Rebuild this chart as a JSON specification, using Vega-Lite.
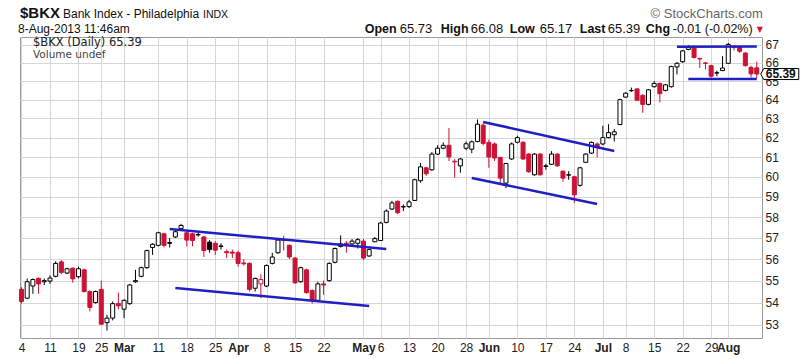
{
  "$schema": "https://vega.github.io/schema/vega-lite/v6.json",
  "width": 742,
  "height": 301,
  "autosize": {"type": "none"},
  "padding": {"left": 20, "top": 37, "right": 38, "bottom": 21},
  "background": "white",
  "config": {
    "font": "Liberation Sans",
    "view": {"stroke": "#9a9a9a", "strokeWidth": 1},
    "text": {"font": "Liberation Sans", "baseline": "alphabetic", "align": "left", "color": "#111"}
  },
  "datasets": {
    "bars": [
      {"d":"2013-02-04","o":54.6,"h":54.7,"l":53.95,"c":54.05},
      {"d":"2013-02-05","o":54.2,"h":55.1,"l":54.15,"c":54.95},
      {"d":"2013-02-06","o":54.75,"h":55.1,"l":54.4,"c":55.05},
      {"d":"2013-02-07","o":55.1,"h":55.15,"l":54.4,"c":54.85},
      {"d":"2013-02-08","o":54.95,"h":55.1,"l":54.8,"c":55.0},
      {"d":"2013-02-11","o":54.98,"h":55.25,"l":54.85,"c":55.12},
      {"d":"2013-02-12","o":55.2,"h":55.9,"l":55.15,"c":55.8},
      {"d":"2013-02-13","o":55.87,"h":55.95,"l":55.3,"c":55.38},
      {"d":"2013-02-14","o":55.35,"h":55.6,"l":55.3,"c":55.55},
      {"d":"2013-02-15","o":55.58,"h":55.6,"l":54.9,"c":55.08},
      {"d":"2013-02-19","o":55.18,"h":55.65,"l":55.1,"c":55.55},
      {"d":"2013-02-20","o":55.5,"h":55.55,"l":54.45,"c":54.5},
      {"d":"2013-02-21","o":54.5,"h":54.55,"l":53.6,"c":53.78},
      {"d":"2013-02-22","o":54.0,"h":54.55,"l":53.95,"c":54.5},
      {"d":"2013-02-25","o":54.6,"h":55.0,"l":53.0,"c":53.03},
      {"d":"2013-02-26","o":53.1,"h":53.45,"l":52.75,"c":53.3},
      {"d":"2013-02-27","o":53.3,"h":54.05,"l":53.2,"c":53.95},
      {"d":"2013-02-28","o":53.95,"h":54.45,"l":53.7,"c":53.85},
      {"d":"2013-03-01","o":53.7,"h":54.15,"l":53.3,"c":54.1},
      {"d":"2013-03-04","o":53.95,"h":54.85,"l":53.9,"c":54.8},
      {"d":"2013-03-05","o":54.95,"h":55.5,"l":54.9,"c":55.0},
      {"d":"2013-03-06","o":55.2,"h":55.65,"l":55.15,"c":55.6},
      {"d":"2013-03-07","o":55.6,"h":56.45,"l":55.55,"c":56.4},
      {"d":"2013-03-08","o":56.55,"h":56.75,"l":56.2,"c":56.7},
      {"d":"2013-03-11","o":56.65,"h":57.3,"l":56.6,"c":57.25},
      {"d":"2013-03-12","o":57.2,"h":57.25,"l":56.55,"c":56.65},
      {"d":"2013-03-13","o":56.78,"h":57.0,"l":56.55,"c":56.75},
      {"d":"2013-03-14","o":57.05,"h":57.4,"l":57.0,"c":57.3},
      {"d":"2013-03-15","o":57.45,"h":57.68,"l":57.4,"c":57.6},
      {"d":"2013-03-18","o":57.25,"h":57.3,"l":56.6,"c":56.9},
      {"d":"2013-03-19","o":57.2,"h":57.25,"l":56.6,"c":56.88},
      {"d":"2013-03-20","o":57.15,"h":57.28,"l":57.06,"c":57.17},
      {"d":"2013-03-21","o":57.05,"h":57.1,"l":56.1,"c":56.4},
      {"d":"2013-03-22","o":56.8,"h":56.9,"l":56.3,"c":56.45},
      {"d":"2013-03-25","o":56.75,"h":56.85,"l":56.2,"c":56.42},
      {"d":"2013-03-26","o":56.62,"h":56.75,"l":56.45,"c":56.6},
      {"d":"2013-03-27","o":56.35,"h":56.45,"l":56.05,"c":56.3},
      {"d":"2013-03-28","o":56.33,"h":56.45,"l":56.05,"c":56.28},
      {"d":"2013-04-01","o":56.3,"h":56.4,"l":55.65,"c":55.8},
      {"d":"2013-04-02","o":55.82,"h":56.0,"l":55.7,"c":55.78},
      {"d":"2013-04-03","o":55.8,"h":55.85,"l":54.5,"c":54.6},
      {"d":"2013-04-04","o":54.65,"h":55.15,"l":54.5,"c":55.1},
      {"d":"2013-04-05","o":54.85,"h":55.3,"l":54.2,"c":55.05},
      {"d":"2013-04-08","o":54.75,"h":55.75,"l":54.7,"c":55.7},
      {"d":"2013-04-09","o":55.8,"h":56.3,"l":55.75,"c":56.1},
      {"d":"2013-04-10","o":56.3,"h":57.0,"l":56.25,"c":56.9},
      {"d":"2013-04-11","o":56.92,"h":57.1,"l":56.4,"c":56.88},
      {"d":"2013-04-12","o":56.65,"h":56.7,"l":56.0,"c":56.1},
      {"d":"2013-04-15","o":56.05,"h":56.1,"l":54.85,"c":54.9},
      {"d":"2013-04-16","o":54.95,"h":55.65,"l":54.9,"c":55.6},
      {"d":"2013-04-17","o":55.5,"h":55.55,"l":54.4,"c":54.45},
      {"d":"2013-04-18","o":54.55,"h":54.6,"l":53.95,"c":54.1},
      {"d":"2013-04-19","o":54.1,"h":54.95,"l":54.05,"c":54.85},
      {"d":"2013-04-22","o":54.85,"h":55.0,"l":54.35,"c":54.8},
      {"d":"2013-04-23","o":55.0,"h":55.85,"l":54.95,"c":55.8},
      {"d":"2013-04-24","o":55.85,"h":56.55,"l":55.8,"c":56.5},
      {"d":"2013-04-25","o":56.6,"h":57.12,"l":56.55,"c":56.72},
      {"d":"2013-04-26","o":56.75,"h":56.85,"l":56.3,"c":56.65},
      {"d":"2013-04-29","o":56.72,"h":56.95,"l":56.65,"c":56.85},
      {"d":"2013-04-30","o":56.75,"h":57.0,"l":56.5,"c":56.92},
      {"d":"2013-05-01","o":56.85,"h":56.95,"l":55.95,"c":56.05},
      {"d":"2013-05-02","o":56.15,"h":56.5,"l":56.1,"c":56.45},
      {"d":"2013-05-03","o":56.82,"h":57.05,"l":56.8,"c":56.97},
      {"d":"2013-05-06","o":56.88,"h":57.78,"l":56.85,"c":57.72},
      {"d":"2013-05-07","o":57.75,"h":58.38,"l":57.7,"c":58.3},
      {"d":"2013-05-08","o":58.4,"h":58.8,"l":58.35,"c":58.7},
      {"d":"2013-05-09","o":58.78,"h":58.82,"l":58.15,"c":58.22},
      {"d":"2013-05-10","o":58.5,"h":58.63,"l":58.3,"c":58.52},
      {"d":"2013-05-13","o":58.52,"h":58.85,"l":58.45,"c":58.75},
      {"d":"2013-05-14","o":58.82,"h":59.9,"l":58.8,"c":59.85},
      {"d":"2013-05-15","o":59.8,"h":60.7,"l":59.7,"c":60.5},
      {"d":"2013-05-16","o":60.45,"h":60.5,"l":60.05,"c":60.15},
      {"d":"2013-05-17","o":60.35,"h":61.25,"l":60.3,"c":61.15},
      {"d":"2013-05-20","o":61.15,"h":61.6,"l":61.1,"c":61.45},
      {"d":"2013-05-21","o":61.45,"h":61.75,"l":61.4,"c":61.6},
      {"d":"2013-05-22","o":61.6,"h":62.5,"l":60.8,"c":61.0},
      {"d":"2013-05-23","o":60.78,"h":60.9,"l":59.95,"c":60.75},
      {"d":"2013-05-24","o":60.55,"h":60.95,"l":60.2,"c":60.9},
      {"d":"2013-05-28","o":61.45,"h":61.8,"l":61.35,"c":61.68},
      {"d":"2013-05-29","o":61.4,"h":61.85,"l":61.2,"c":61.78},
      {"d":"2013-05-30","o":61.8,"h":62.95,"l":61.75,"c":62.7},
      {"d":"2013-05-31","o":62.65,"h":62.75,"l":61.6,"c":61.7},
      {"d":"2013-06-03","o":61.75,"h":61.9,"l":60.45,"c":61.0},
      {"d":"2013-06-04","o":61.67,"h":61.75,"l":60.8,"c":60.95},
      {"d":"2013-06-05","o":60.98,"h":61.0,"l":59.68,"c":59.93},
      {"d":"2013-06-06","o":59.68,"h":60.7,"l":59.43,"c":60.67},
      {"d":"2013-06-07","o":60.9,"h":61.75,"l":60.85,"c":61.67},
      {"d":"2013-06-10","o":61.76,"h":62.1,"l":61.7,"c":62.0},
      {"d":"2013-06-11","o":61.76,"h":61.8,"l":60.85,"c":60.9},
      {"d":"2013-06-12","o":61.15,"h":61.2,"l":60.2,"c":60.25},
      {"d":"2013-06-13","o":60.1,"h":61.2,"l":60.05,"c":61.15},
      {"d":"2013-06-14","o":61.15,"h":61.2,"l":60.05,"c":60.1},
      {"d":"2013-06-17","o":60.52,"h":60.65,"l":60.35,"c":60.55},
      {"d":"2013-06-18","o":60.63,"h":61.3,"l":60.6,"c":61.15},
      {"d":"2013-06-19","o":61.15,"h":61.2,"l":60.5,"c":60.55},
      {"d":"2013-06-20","o":60.28,"h":60.3,"l":59.75,"c":59.93},
      {"d":"2013-06-21","o":60.08,"h":60.28,"l":59.85,"c":60.1},
      {"d":"2013-06-24","o":60.0,"h":60.05,"l":58.7,"c":59.1},
      {"d":"2013-06-25","o":59.57,"h":60.5,"l":59.5,"c":60.45},
      {"d":"2013-06-26","o":60.73,"h":61.2,"l":60.7,"c":61.15},
      {"d":"2013-06-27","o":61.2,"h":61.8,"l":61.15,"c":61.75},
      {"d":"2013-06-28","o":61.67,"h":61.75,"l":60.98,"c":61.5},
      {"d":"2013-07-01","o":61.67,"h":62.62,"l":61.6,"c":62.0},
      {"d":"2013-07-02","o":62.0,"h":62.7,"l":61.95,"c":62.26},
      {"d":"2013-07-03","o":62.15,"h":62.45,"l":61.8,"c":62.3},
      {"d":"2013-07-05","o":62.68,"h":64.05,"l":62.65,"c":64.0},
      {"d":"2013-07-08","o":64.14,"h":64.4,"l":64.1,"c":64.35},
      {"d":"2013-07-09","o":64.48,"h":64.65,"l":64.42,"c":64.5},
      {"d":"2013-07-10","o":64.58,"h":64.62,"l":63.95,"c":63.97},
      {"d":"2013-07-11","o":64.23,"h":64.3,"l":63.3,"c":63.75},
      {"d":"2013-07-12","o":63.75,"h":64.57,"l":63.7,"c":64.53},
      {"d":"2013-07-15","o":64.7,"h":65.0,"l":64.65,"c":64.88},
      {"d":"2013-07-16","o":64.88,"h":64.92,"l":63.85,"c":64.32},
      {"d":"2013-07-17","o":64.5,"h":64.85,"l":64.45,"c":64.8},
      {"d":"2013-07-18","o":64.7,"h":65.85,"l":64.65,"c":65.8},
      {"d":"2013-07-19","o":65.78,"h":66.05,"l":65.37,"c":65.98},
      {"d":"2013-07-22","o":66.07,"h":66.72,"l":66.0,"c":66.67},
      {"d":"2013-07-23","o":66.75,"h":67.0,"l":66.7,"c":66.85},
      {"d":"2013-07-24","o":66.82,"h":66.98,"l":66.25,"c":66.3},
      {"d":"2013-07-25","o":66.25,"h":66.28,"l":65.72,"c":66.22},
      {"d":"2013-07-26","o":66.0,"h":66.05,"l":65.65,"c":65.98},
      {"d":"2013-07-29","o":65.85,"h":65.9,"l":65.2,"c":65.27},
      {"d":"2013-07-30","o":65.44,"h":65.58,"l":65.27,"c":65.46},
      {"d":"2013-07-31","o":65.58,"h":66.38,"l":65.55,"c":65.72},
      {"d":"2013-08-01","o":65.98,"h":67.12,"l":65.95,"c":67.03},
      {"d":"2013-08-02","o":66.93,"h":67.0,"l":66.7,"c":66.88},
      {"d":"2013-08-05","o":66.9,"h":66.95,"l":66.55,"c":66.65},
      {"d":"2013-08-06","o":66.55,"h":66.6,"l":65.8,"c":65.85},
      {"d":"2013-08-07","o":65.75,"h":65.85,"l":65.2,"c":65.4},
      {"d":"2013-08-08","o":65.73,"h":66.08,"l":65.17,"c":65.39}
    ],
    "trend": [
      {"a":"2013-03-13","va":57.43,"b":"2013-05-07","vb":56.48},
      {"a":"2013-03-14","va":54.66,"b":"2013-05-02","vb":53.84},
      {"a":"2013-05-31","va":62.82,"b":"2013-07-03","vb":61.31},
      {"a":"2013-05-29","va":59.94,"b":"2013-06-28","vb":58.65},
      {"a":"2013-07-19","va":66.9,"b":"2013-08-08","vb":66.92},
      {"a":"2013-07-23","va":65.12,"b":"2013-08-08","vb":65.12}
    ]
  },
  "layer": [
    {
      "data": {"name": "bars"},
      "transform": [{"window": [{"op": "lag", "field": "c", "as": "pc"}], "sort": [{"field": "d"}]}],
      "mark": {"type": "rule", "strokeWidth": 1},
      "encoding": {
        "x": {
          "field": "d", "type": "ordinal",
          "scale": {"type": "point", "padding": 0.59, "align": 0.22},
          "axis": {
            "values": ["2013-02-04","2013-02-11","2013-02-19","2013-02-25","2013-03-01","2013-03-11","2013-03-18","2013-03-25","2013-04-01","2013-04-08","2013-04-15","2013-04-22","2013-05-01","2013-05-06","2013-05-13","2013-05-20","2013-05-28","2013-06-03","2013-06-10","2013-06-17","2013-06-24","2013-07-01","2013-07-08","2013-07-15","2013-07-22","2013-07-29","2013-08-01"],
            "labelExpr": "indexof(['2013-03-01','2013-04-01','2013-05-01','2013-06-03','2013-07-01','2013-08-01'], datum.value) >= 0 ? ['Jan','Feb','Mar','Apr','May','Jun','Jul','Aug'][toNumber(substring(datum.value,5,7))-1] : '' + toNumber(substring(datum.value,8,10))",
            "labelFontWeight": {"condition": {"test": "indexof(['2013-03-01','2013-04-01','2013-05-01','2013-06-03','2013-07-01','2013-08-01'], datum.value) >= 0", "value": "bold"}, "value": "normal"},
            "labelFontSize": 12, "labelColor": "#222", "labelFont": "Liberation Sans",
            "labelAngle": 0, "labelPadding": 4, "labelOverlap": false, "labelBound": false,
            "ticks": false, "domain": false, "grid": true, "gridColor": "#d6d6d6", "gridWidth": 1,
            "title": null
          }
        },
        "y": {
          "field": "l", "type": "quantitative",
          "scale": {"type": "log", "domain": [52.42, 67.45], "nice": false},
          "axis": {
            "orient": "right", "values": [53,54,55,56,57,58,59,60,61,62,63,64,65,66,67], "format": "d",
            "labelFontSize": 12, "labelColor": "#222", "labelFont": "Liberation Sans", "labelPadding": 3,
            "ticks": false, "domain": false, "grid": true, "gridColor": "#d6d6d6", "gridWidth": 1,
            "title": null
          }
        },
        "y2": {"field": "h"},
        "color": {"condition": {"test": "datum.c < (datum.pc == null ? datum.o : datum.pc)", "value": "#cc1236"}, "value": "#000000"}
      }
    },
    {
      "data": {"name": "bars"},
      "transform": [{"window": [{"op": "lag", "field": "c", "as": "pc"}], "sort": [{"field": "d"}]}],
      "mark": {"type": "bar", "width": 4, "strokeWidth": 1},
      "encoding": {
        "x": {"field": "d", "type": "ordinal"},
        "y": {"field": "o", "type": "quantitative"},
        "y2": {"field": "c"},
        "fill": {"condition": [
          {"test": "datum.c >= datum.o", "value": "#ffffff"},
          {"test": "datum.c < (datum.pc == null ? datum.o : datum.pc)", "value": "#cc1236"}
        ], "value": "#000000"},
        "stroke": {"condition": {"test": "datum.c < (datum.pc == null ? datum.o : datum.pc)", "value": "#cc1236"}, "value": "#000000"}
      }
    },
    {
      "data": {"name": "trend"},
      "mark": {"type": "rule", "color": "#1f1fc4", "strokeWidth": 2.5},
      "encoding": {
        "x": {"field": "a", "type": "ordinal"},
        "x2": {"field": "b"},
        "y": {"field": "va", "type": "quantitative"},
        "y2": {"field": "vb"}
      }
    },
    {
      "data": {"values": [{}]},
      "mark": {"type": "point", "shape": "M0.4,0 L0.7,-0.55 L4.2,-0.55 L4.2,0.55 L0.7,0.55 Z", "size": 400, "filled": true, "fill": "#ffffff", "stroke": "#000000", "strokeWidth": 1, "opacity": 1},
      "encoding": {"x": {"datum": "2013-08-08", "type": "ordinal"}, "y": {"datum": 65.39, "type": "quantitative"}}
    },
    {
      "data": {"values": [{}]},
      "mark": {"type": "text", "text": "65.39", "fontWeight": "bold", "fontSize": 12, "dx": 9, "baseline": "middle"},
      "encoding": {"x": {"datum": "2013-08-08", "type": "ordinal"}, "y": {"datum": 65.39, "type": "quantitative"}}
    },
    {
      "data": {"values": [{}]},
      "mark": {"type": "text", "text": "$BKX", "fontWeight": "bold", "fontSize": 15, "dx": -1.5},
      "encoding": {"x": {"datum": "2013-02-04", "type": "ordinal"}, "y": {"datum": 68.53, "type": "quantitative"}}
    },
    {
      "data": {"values": [{}]},
      "mark": {"type": "text", "text": "Bank Index - Philadelphia", "fontSize": 12, "dx": 41.5},
      "encoding": {"x": {"datum": "2013-02-04", "type": "ordinal"}, "y": {"datum": 68.53, "type": "quantitative"}}
    },
    {
      "data": {"values": [{}]},
      "mark": {"type": "text", "text": "INDX", "fontSize": 10.5, "dx": 181.5},
      "encoding": {"x": {"datum": "2013-02-04", "type": "ordinal"}, "y": {"datum": 68.53, "type": "quantitative"}}
    },
    {
      "data": {"values": [{}]},
      "mark": {"type": "text", "text": "8-Aug-2013 11:46am", "fontSize": 12, "dx": -3.5},
      "encoding": {"x": {"datum": "2013-02-04", "type": "ordinal"}, "y": {"datum": 67.68, "type": "quantitative"}}
    },
    {
      "data": {"values": [{}]},
      "mark": {"type": "text", "text": "$BKX (Daily) 65.39", "font": "DejaVu Sans", "fontSize": 11.5, "dx": 11.5, "color": "#222"},
      "encoding": {"x": {"datum": "2013-02-04", "type": "ordinal"}, "y": {"datum": 66.93, "type": "quantitative"}}
    },
    {
      "data": {"values": [{}]},
      "mark": {"type": "text", "text": "Volume undef", "font": "DejaVu Sans", "fontSize": 10.5, "dx": 11.5, "color": "#444"},
      "encoding": {"x": {"datum": "2013-02-04", "type": "ordinal"}, "y": {"datum": 66.25, "type": "quantitative"}}
    },
    {
      "data": {"values": [{}]},
      "mark": {"type": "text", "text": "© StockCharts.com", "fontSize": 13, "dx": 6, "align": "right", "color": "#666"},
      "encoding": {"x": {"datum": "2013-08-08", "type": "ordinal"}, "y": {"datum": 68.53, "type": "quantitative"}}
    },
    {
      "data": {"values": [{}]},
      "mark": {"type": "text", "text": "Open", "fontWeight": "bold", "fontSize": 12.5, "dx": -392},
      "encoding": {"x": {"datum": "2013-08-08", "type": "ordinal"}, "y": {"datum": 67.68, "type": "quantitative"}}
    },
    {
      "data": {"values": [{}]},
      "mark": {"type": "text", "text": "65.73", "fontSize": 13, "dx": -357},
      "encoding": {"x": {"datum": "2013-08-08", "type": "ordinal"}, "y": {"datum": 67.68, "type": "quantitative"}}
    },
    {
      "data": {"values": [{}]},
      "mark": {"type": "text", "text": "High", "fontWeight": "bold", "fontSize": 12.5, "dx": -316},
      "encoding": {"x": {"datum": "2013-08-08", "type": "ordinal"}, "y": {"datum": 67.68, "type": "quantitative"}}
    },
    {
      "data": {"values": [{}]},
      "mark": {"type": "text", "text": "66.08", "fontSize": 13, "dx": -286},
      "encoding": {"x": {"datum": "2013-08-08", "type": "ordinal"}, "y": {"datum": 67.68, "type": "quantitative"}}
    },
    {
      "data": {"values": [{}]},
      "mark": {"type": "text", "text": "Low", "fontWeight": "bold", "fontSize": 12.5, "dx": -247},
      "encoding": {"x": {"datum": "2013-08-08", "type": "ordinal"}, "y": {"datum": 67.68, "type": "quantitative"}}
    },
    {
      "data": {"values": [{}]},
      "mark": {"type": "text", "text": "65.17", "fontSize": 13, "dx": -217},
      "encoding": {"x": {"datum": "2013-08-08", "type": "ordinal"}, "y": {"datum": 67.68, "type": "quantitative"}}
    },
    {
      "data": {"values": [{}]},
      "mark": {"type": "text", "text": "Last", "fontWeight": "bold", "fontSize": 12.5, "dx": -177},
      "encoding": {"x": {"datum": "2013-08-08", "type": "ordinal"}, "y": {"datum": 67.68, "type": "quantitative"}}
    },
    {
      "data": {"values": [{}]},
      "mark": {"type": "text", "text": "65.39", "fontSize": 13, "dx": -149},
      "encoding": {"x": {"datum": "2013-08-08", "type": "ordinal"}, "y": {"datum": 67.68, "type": "quantitative"}}
    },
    {
      "data": {"values": [{}]},
      "mark": {"type": "text", "text": "Chg", "fontWeight": "bold", "fontSize": 12.5, "dx": -111},
      "encoding": {"x": {"datum": "2013-08-08", "type": "ordinal"}, "y": {"datum": 67.68, "type": "quantitative"}}
    },
    {
      "data": {"values": [{}]},
      "mark": {"type": "text", "text": "-0.01 (-0.02%)", "fontSize": 12.5, "dx": -84},
      "encoding": {"x": {"datum": "2013-08-08", "type": "ordinal"}, "y": {"datum": 67.68, "type": "quantitative"}}
    },
    {
      "data": {"values": [{}]},
      "mark": {"type": "text", "text": "▼", "fontSize": 8, "dx": 0, "color": "#cc1236", "font": "DejaVu Sans"},
      "encoding": {"x": {"datum": "2013-08-08", "type": "ordinal"}, "y": {"datum": 67.72, "type": "quantitative"}}
    }
  ]
}
